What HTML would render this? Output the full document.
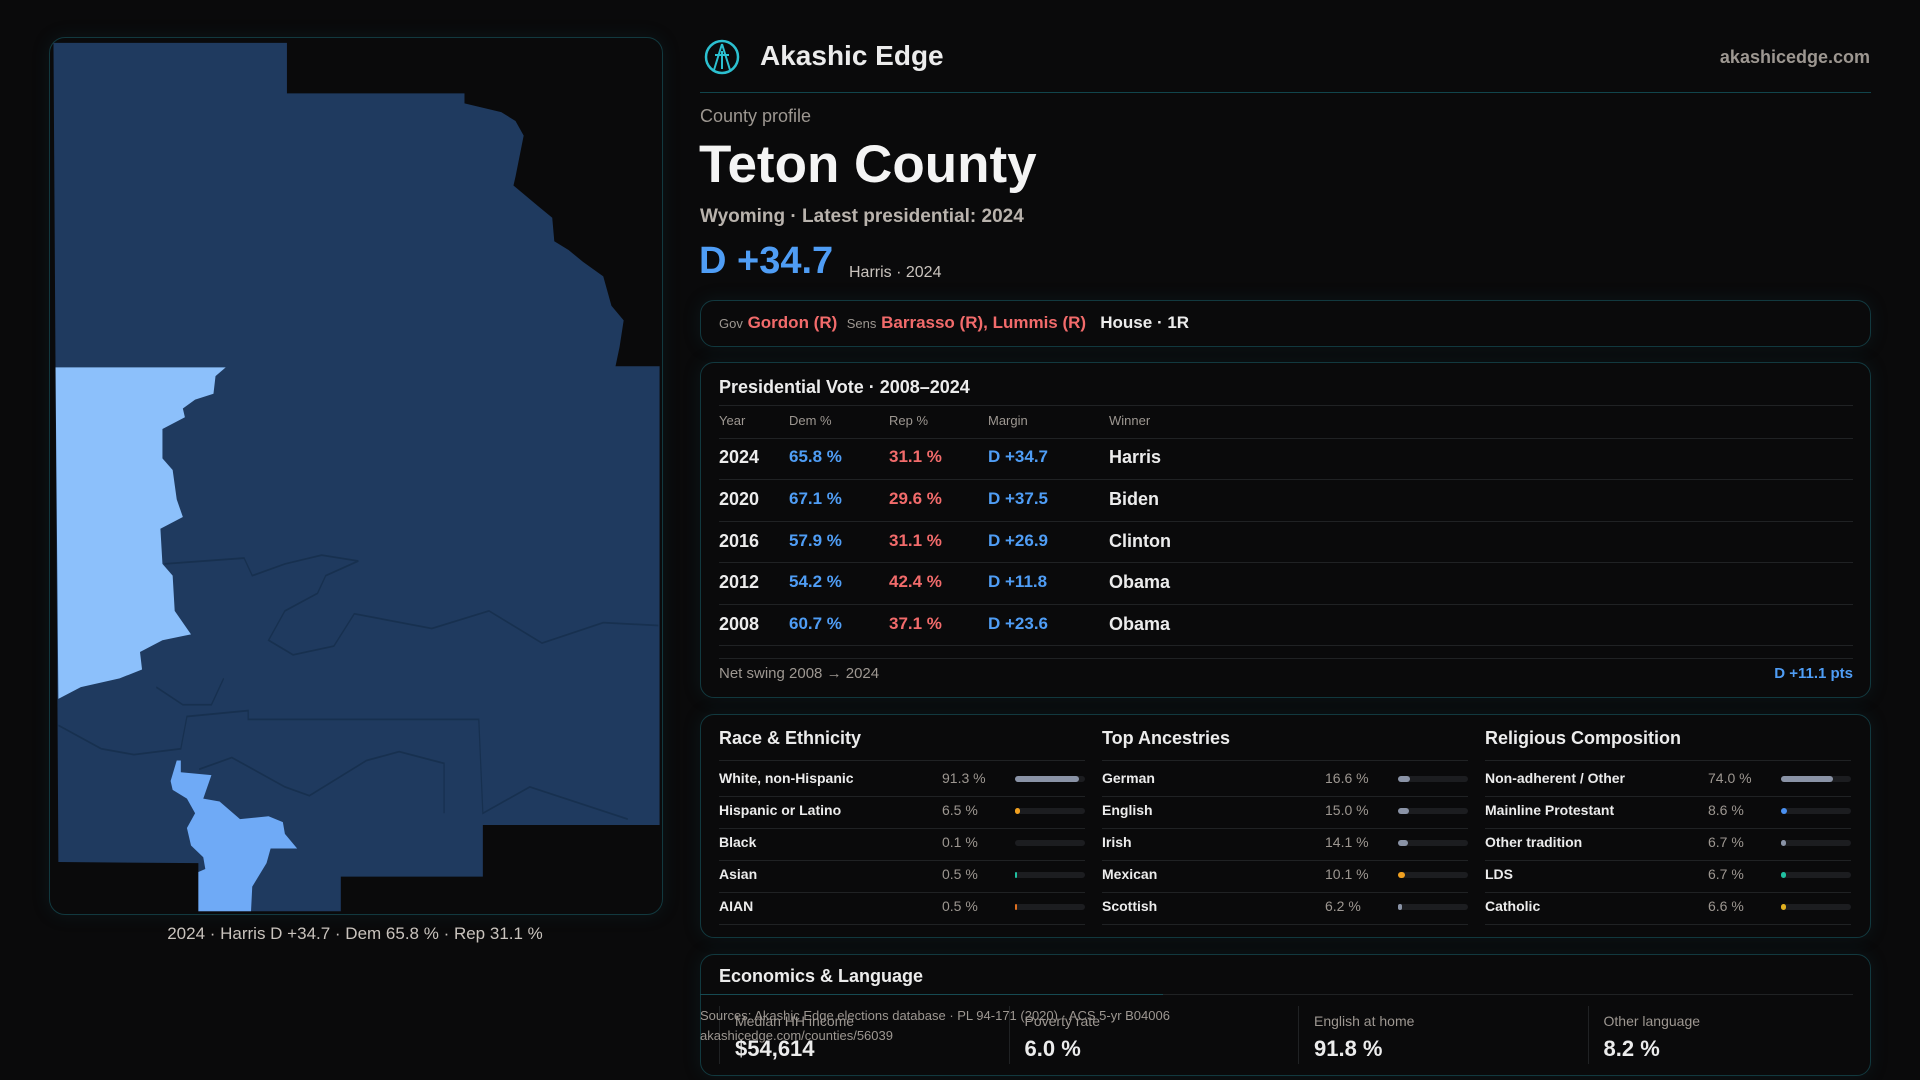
<!DOCTYPE html>
<html><head><meta charset="utf-8"><style>
*{margin:0;padding:0;box-sizing:border-box}
body{width:1920px;height:1080px;background:#0a0a0b;font-family:"Liberation Sans",sans-serif;color:#ececec;position:relative;overflow:hidden}
.a{position:absolute;white-space:nowrap}
.box{position:absolute;border:1px solid #12393f;border-radius:14px;background:#0a0a0b;box-shadow:0 0 18px rgba(20,80,90,0.18)}
.mut{color:#9d9791}
.blue{color:#4f9df5}.red{color:#f26b6b}
.line{position:absolute;height:1px;background:#202224}
.track{position:absolute;height:6px;border-radius:3px;background:#1c1d20}
.fill{position:absolute;left:0;top:0;height:6px;border-radius:3px}
</style></head><body>
<div class="box" style="left:49px;top:37px;width:614px;height:878px;border-radius:16px"></div>
<svg class="a" style="left:40px;top:30px" width="640" height="920" viewBox="0 0 1568 1568" preserveAspectRatio="none">
<path fill="#1f3a5f" d="M33,22 L605,22 L605,108 L1040,108 L1040,125 L1130,140 L1165,155 L1185,180 L1165,250 L1160,265 L1220,300 L1255,320 L1260,360 L1295,375 L1330,395 L1380,420 L1400,470 L1430,495 L1420,540 L1410,573 L1518,573 L1518,1355 L1085,1355 L1085,1443 L737,1443 L737,1502 L388,1502 L388,1420 L45,1418 L38,575 Z"/>
<path fill="#8cc0fb" d="M38,575 L455,575 L430,590 L425,620 L380,630 L350,645 L355,660 L300,680 L300,730 L325,750 L335,800 L350,830 L295,850 L300,910 L325,930 L330,990 L370,1030 L300,1040 L245,1060 L250,1090 L195,1105 L100,1120 L45,1140 Z"/>
<path fill="#6faaf6" d="M335,1245 L345,1245 L345,1265 L420,1270 L400,1310 L440,1315 L490,1345 L560,1340 L595,1350 L600,1370 L630,1395 L565,1395 L555,1420 L520,1460 L517,1502 L388,1502 L388,1435 L405,1430 L400,1410 L370,1390 L360,1360 L380,1335 L360,1310 L325,1295 L320,1280 Z"/>
<g fill="none" stroke="#17304f" stroke-width="3">
<path d="M305,910 L500,900 L520,930 L600,910 L690,895 L780,905 L700,930 L680,960 L600,990 L560,1040 L620,1065 L720,1050 L770,995 L960,1020 L1100,990 L1230,1045 L1380,1010 L1515,1015"/>
<path d="M45,1185 L150,1225 L230,1235 L345,1225 L360,1170 L510,1160 L510,1175 L1075,1175 L1085,1335 L1200,1290 L1440,1345"/>
<path d="M285,1120 L350,1150 L420,1150 L450,1105 M390,1260 L470,1240 L600,1290 L660,1305 L800,1245 L880,1230 L990,1250 L990,1335"/>
</g>
</svg>
<div class="a" style="left:0;width:710px;top:924px;text-align:center;font-size:17px;color:#c9c3bd">2024 · Harris D +34.7 · Dem 65.8 % · Rep 31.1 %</div>

<svg class="a" style="left:704px;top:39px" width="36" height="36" viewBox="0 0 36 36"><circle cx="18" cy="18" r="16" fill="none" stroke="#2cc0d0" stroke-width="2.5"/><path d="M18 5 L10 31 M18 5 L26 31 M11 16 L25 16 M18 12 L18 30" stroke="#2cc0d0" stroke-width="2" fill="none"/></svg>
<div class="a" style="left:760px;top:40px;font-size:28px;font-weight:bold">Akashic Edge</div>
<div class="a mut" style="right:50px;top:47px;font-size:18px;font-weight:bold">akashicedge.com</div>
<div class="line" style="left:700px;top:92px;width:1171px;background:#11454c"></div>
<div class="a mut" style="left:700px;top:106px;font-size:18px">County profile</div>
<div class="a" style="left:699px;top:134px;font-size:53px;font-weight:bold;color:#f4f4f4">Teton County</div>
<div class="a" style="left:700px;top:206px;font-size:19px;font-weight:bold;color:#b9b3ad">Wyoming · Latest presidential: 2024</div>
<div class="a blue" style="left:699px;top:240px;font-size:38px;font-weight:bold">D +34.7</div>
<div class="a" style="left:849px;top:264px;font-size:16px;color:#c9c3bd">Harris · 2024</div>

<div class="box" style="left:700px;top:300px;width:1171px;height:47px"></div>
<div class="a" style="left:719px;top:313px;font-size:17px;font-weight:bold">
<span class="mut" style="font-size:13px;font-weight:normal">Gov</span> <span class="red">Gordon (R)</span> &nbsp;<span class="mut" style="font-size:13px;font-weight:normal">Sens</span> <span class="red">Barrasso (R), Lummis (R)</span> &nbsp; House · 1R</div>

<div class="box" style="left:700px;top:362px;width:1171px;height:336px"></div>
<div class="a" style="left:719px;top:377px;font-size:18px;font-weight:bold">Presidential Vote · 2008–2024</div>
<div class="line" style="left:719px;top:405px;width:1134px"></div>
<div class="a mut" style="left:719px;top:413px;font-size:13px">Year</div>
<div class="a mut" style="left:789px;top:413px;font-size:13px">Dem %</div>
<div class="a mut" style="left:889px;top:413px;font-size:13px">Rep %</div>
<div class="a mut" style="left:988px;top:413px;font-size:13px">Margin</div>
<div class="a mut" style="left:1109px;top:413px;font-size:13px">Winner</div>
<div class="line" style="left:719px;top:438px;width:1134px"></div>
<div id="pres"></div>
<div class="line" style="left:719px;top:658px;width:1134px"></div>
<div class="a mut" style="left:719px;top:665px;font-size:15px">Net swing 2008 → 2024</div>
<div class="a blue" style="right:67px;top:665px;font-size:15px;font-weight:bold">D +11.1 pts</div>

<div class="box" style="left:700px;top:714px;width:1171px;height:224px"></div>
<div id="demo"></div>

<div class="box" style="left:700px;top:954px;width:1171px;height:122px"></div>
<div class="a" style="left:719px;top:966px;font-size:18px;font-weight:bold">Economics &amp; Language</div>
<div class="line" style="left:719px;top:994px;width:1134px"></div>
<div class="line" style="left:700px;top:994px;width:463px;background:#164a52"></div>
<div id="econ"></div>
<div class="a mut" style="left:700px;top:1006px;font-size:13px;line-height:20px">Sources: Akashic Edge elections database · PL 94-171 (2020) · ACS 5-yr B04006<br>akashicedge.com/counties/56039</div>

<script>
const years=['2024','2020','2016','2012','2008'];
const demPct=[65.8,67.1,57.9,54.2,60.7];
const repPct=[31.1,29.6,31.1,42.4,37.1];
const margins=[34.7,37.5,26.9,11.8,23.6];
const winners=['Harris','Biden','Clinton','Obama','Obama'];
const raceLabels=['White, non-Hispanic','Hispanic or Latino','Black','Asian','AIAN'];
const raceValues=[91.3,6.5,0.1,0.5,0.5];
const ancLabels=['German','English','Irish','Mexican','Scottish'];
const ancValues=[16.6,15.0,14.1,10.1,6.2];
const relLabels=['Non-adherent / Other','Mainline Protestant','Other tradition','LDS','Catholic'];
const relValues=[74.0,8.6,6.7,6.7,6.6];
const econLabels=['Median HH income','Poverty rate','English at home','Other language'];
const econValues=['$54,614','6.0 %','91.8 %','8.2 %'];
const raceColors=['#8a93a6','#f0a020','#8a93a6','#20c0a0','#e07020'];
const ancColors=['#8a93a6','#8a93a6','#8a93a6','#f0a020','#8a93a6'];
const relColors=['#8a93a6','#4a90f0','#8a93a6','#20c0a0','#e0b020'];

function mk(parent,cls,style,text){const d=document.createElement('div');d.className=cls;d.style.cssText=style;if(text!==undefined)d.textContent=text;parent.appendChild(d);return d;}
const pres=document.getElementById('pres');
years.forEach((y,i)=>{
  const top=447+i*41.8;
  const r=mk(pres,'a','left:0;top:0;');
  
  
  mk(r,'a','left:719px;top:'+top+'px;font-size:18px;font-weight:bold',y);
  mk(r,'a blue','left:789px;top:'+top+'px;font-size:17px;font-weight:bold',demPct[i].toFixed(1)+' %');
  mk(r,'a red','left:889px;top:'+top+'px;font-size:17px;font-weight:bold',repPct[i].toFixed(1)+' %');
  mk(r,'a blue','left:988px;top:'+top+'px;font-size:17px;font-weight:bold','D +'+margins[i].toFixed(1));
  mk(r,'a','left:1109px;top:'+top+'px;font-size:18px;font-weight:bold',winners[i]);
  mk(pres,'line','left:719px;top:'+(479+i*41.6)+'px;width:1134px');
});
const demo=document.getElementById('demo');
function col(x,title,labels,values,colors,key){
  const t=mk(demo,'a','left:'+x+'px;top:728px;font-size:18px;font-weight:bold',title);
  
  
  mk(demo,'line','left:'+x+'px;top:760px;width:366px');
  labels.forEach((l,i)=>{
    const top=770+i*32;
    const lb=mk(demo,'a','left:'+x+'px;top:'+top+'px;font-size:14px;font-weight:bold',l);
    
    
    mk(demo,'a mut','left:'+(x+223)+'px;top:'+top+'px;font-size:14px',values[i].toFixed(1)+' %');
    const tr=mk(demo,'track','left:'+(x+296)+'px;top:'+(top+6)+'px;width:70px');
    
    
    const w=Math.max(values[i]/100*70,values[i]>0.2?2:0);
    mk(tr,'fill','width:'+w+'px;background:'+colors[i]);
    mk(demo,'line','left:'+x+'px;top:'+(top+26)+'px;width:366px');
  });
}
col(719,'Race & Ethnicity',raceLabels,raceValues,raceColors,'race');
col(1102,'Top Ancestries',ancLabels,ancValues,ancColors,'ancestry');
col(1485,'Religious Composition',relLabels,relValues,relColors,'religion');
const econ=document.getElementById('econ');
econLabels.forEach((l,i)=>{
  const x=719+i*289.5;
  mk(econ,'a','left:'+x+'px;top:1006px;width:1px;height:58px;background:#202224');
  const lb=mk(econ,'a mut','left:'+(x+16)+'px;top:1013px;font-size:14px',l);
  
  
  const v=mk(econ,'a','left:'+(x+16)+'px;top:1036px;font-size:22px;font-weight:bold',econValues[i]);
  
  
});
</script>
</body></html>
